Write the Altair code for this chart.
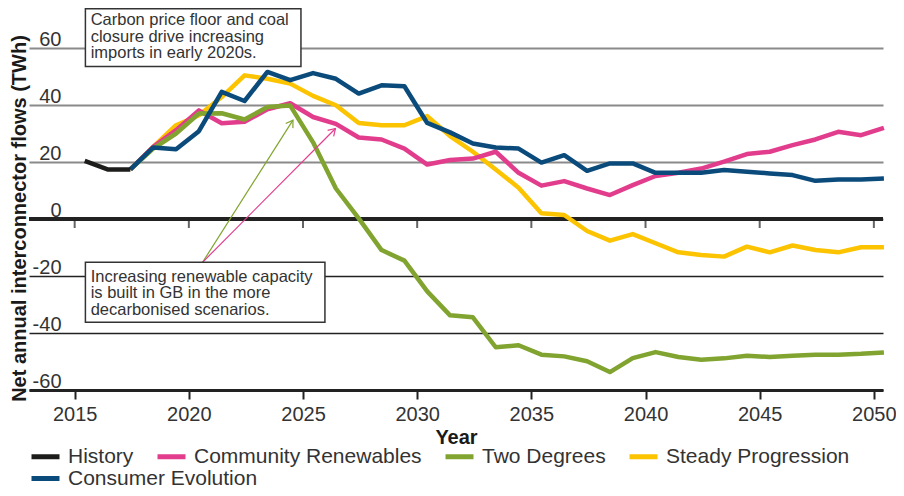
import altair as alt
import pandas as pd

# ---------------- data ----------------
series_names = ["History", "Community Renewables", "Two Degrees",
                "Steady Progression", "Consumer Evolution"]
series_colors = ["#1d1d1b", "#e23d8d", "#80a42f", "#fcc300", "#0b4b7b"]
draw_order = ["Steady Progression", "Community Renewables", "Two Degrees",
              "Consumer Evolution", "History"]

history_years = [2015, 2016, 2017]
history = [20.4, 17.4, 17.4]

scenario_years = list(range(2017, 2051))
community = [17.4, 25.3, 31.2, 38.1, 33.6, 34.1, 38.5, 40.6, 35.8, 33.4, 28.6, 27.9,
             24.7, 19.1, 20.7, 21.2, 23.6, 16.2, 11.7, 13.3, 10.7, 8.4, 11.9, 15.1,
             16.2, 17.7, 20.1, 22.8, 23.6, 25.9, 27.9, 30.6, 29.4, 32.0]
two_degrees = [17.4, 24.7, 30.0, 37.0, 37.1, 34.9, 39.3, 39.8, 26.9, 10.7, 0.2, -10.9,
               -14.6, -25.4, -33.8, -34.5, -45.0, -44.3, -47.6, -48.2, -49.9, -53.7,
               -48.8, -46.7, -48.4, -49.4, -48.9, -48.0, -48.4, -48.0, -47.6, -47.6,
               -47.3, -46.8]
steady = [17.4, 25.3, 32.9, 36.4, 42.8, 50.4, 49.2, 47.5, 43.2, 39.9, 33.7, 32.9,
          32.9, 36.1, 29.1, 23.6, 17.4, 11.0, 2.0, 1.4, -4.2, -7.6, -5.3, -8.5,
          -11.7, -12.6, -13.2, -9.7, -11.7, -9.3, -10.9, -11.7, -9.9, -9.9]
consumer = [17.4, 25.1, 24.5, 30.8, 44.6, 41.4, 51.6, 48.7, 51.2, 49.2, 44.0, 46.9,
            46.6, 33.7, 30.4, 26.5, 25.1, 24.7, 19.8, 22.4, 16.9, 19.5, 19.5, 16.2,
            16.2, 16.2, 17.2, 16.6, 16.0, 15.4, 13.4, 13.9, 13.9, 14.2]

x_ticks = [2015, 2020, 2025, 2030, 2035, 2040, 2045, 2050]
y_ticks = [-60, -40, -20, 0, 20, 40, 60]
year_offset = 0.44  # values are plotted mid-year

# annotations (data coordinates)
note_text = ["Carbon price floor and coal\nclosure drive increasing\nimports in early 2020s.",
             "Increasing renewable capacity\nis built in GB in the more\ndecarbonised scenarios."]
note_x = [2015.7, 2015.7]
note_y = [68.0, -22.0]
box_x = [2015.47, 2015.47]
box_x2 = [2024.91, 2025.96]
box_y = [73.8, -15.2]
box_y2 = [53.5, -36.2]
arrow_x = [2020.6, 2020.6]
arrow_y = [-15.2, -15.2]
arrow_x2 = [2024.56, 2026.42]
arrow_y2 = [34.7, 31.75]
arrow_color = ["#80a42f", "#e23d8d"]
arrow_angle = [32.4, 44.8]

# ---------------- frames ----------------
rows = []
for y, v in zip(history_years, history):
    rows.append({"series": "History", "year": y, "value": v})
for name, vals in [("Community Renewables", community), ("Two Degrees", two_degrees),
                   ("Steady Progression", steady), ("Consumer Evolution", consumer)]:
    for y, v in zip(scenario_years, vals):
        rows.append({"series": name, "year": y, "value": v})
df = pd.DataFrame(rows)
df["xpos"] = df["year"] + year_offset

notes = pd.DataFrame({"text": note_text, "x": note_x, "y": note_y})
boxes = pd.DataFrame({"x": box_x, "x2": box_x2, "y": box_y, "y2": box_y2})
arrows = pd.DataFrame({"x": arrow_x, "y": arrow_y, "x2": arrow_x2, "y2": arrow_y2,
                       "c": arrow_color, "a": arrow_angle})
ticks0 = pd.DataFrame({"t": x_ticks})

FONT = "Liberation Sans"
W, H = 854, 342
x_scale = alt.Scale(domain=[2013, 2050.4], nice=False, zero=False)
y_scale = alt.Scale(domain=[-60, 60], nice=False)

xaxis = alt.Axis(values=x_ticks, format="d", grid=False, domain=True, domainColor="#222",
                 domainWidth=3, ticks=True, tickColor="#222", tickWidth=2, tickSize=9,
                 labelFontSize=20, labelColor="#333", labelFont=FONT,
                 labelBaseline="alphabetic", labelPadding=21,
                 title="Year", titleFont=FONT, titleFontSize=20, titleFontWeight="bold",
                 titleColor="#1a1a1a", titleBaseline="alphabetic", titleY=53)
yaxis = alt.Axis(values=y_ticks, domain=False, ticks=False, tickSize=0, grid=True,
                 gridColor={"condition": {"test": "datum.value < 0", "value": "#222222"},
                            "value": "#8a8a8a"},
                 gridWidth={"condition": {"test": "datum.value < 0", "value": 1.3},
                            "value": 2},
                 labelExpr="datum.value < 0 ? '-' + abs(datum.value) : '' + datum.value",
                 labelAlign="right", labelPadding=-32, labelBaseline="alphabetic",
                 labelOffset=-3, labelFontSize=20, labelColor="#333", labelFont=FONT,
                 title="Net annual interconnector flows (TWh)", titleFont=FONT,
                 titleFontSize=20, titleFontWeight="bold", titleColor="#1a1a1a",
                 titleAngle=-90, titleX=-4, titleY=170, titleAlign="center",
                 titleBaseline="alphabetic")


def make_legend(y):
    return alt.Legend(orient="none", legendX=0, legendY=y, direction="horizontal",
                      symbolType="stroke", symbolSize=784, symbolStrokeWidth=5,
                      labelFontSize=21, labelColor="#333", labelFont=FONT, labelOffset=6,
                      labelLimit=0, columnPadding=13, title=None, padding=0)


# first legend row: four series on the colour scale
color = alt.Color("series:N",
                  scale=alt.Scale(domain=series_names[:4], range=series_colors[:4]),
                  legend=make_legend(392))
# second legend row: the fifth series on its own stroke scale
stroke = alt.Stroke("series:N",
                    scale=alt.Scale(domain=series_names[4:], range=series_colors[4:]),
                    legend=make_legend(414))


def X(field):
    return alt.X(field, scale=x_scale, axis=xaxis)


def Y(field):
    return alt.Y(field, scale=y_scale, axis=yaxis)


layers = []
# zero line
layers.append(alt.Chart(ticks0).mark_rule(color="#222", strokeWidth=3).encode(
    y=alt.YDatum(0, scale=y_scale, axis=yaxis)))
# ticks on zero line
layers.append(alt.Chart(ticks0).mark_tick(orient="vertical", size=9, thickness=2,
                                          color="#222", yOffset=4.5).encode(
    x=X("t:Q"), y=alt.YDatum(0, scale=y_scale, axis=yaxis)))

for s in draw_order:
    enc = {"stroke": stroke} if s in series_names[4:] else {"color": color}
    layers.append(alt.Chart(df).transform_filter(alt.datum.series == s).mark_line(
        strokeWidth=4.5, strokeJoin="round").encode(
        x=X("xpos:Q"), y=Y("value:Q"), **enc))

# annotation arrows
layers.append(alt.Chart(arrows).mark_rule(strokeWidth=1.2).encode(
    x=X("x:Q"), y=Y("y:Q"), x2="x2:Q", y2="y2:Q", color=alt.Color("c:N", scale=None)))
layers.append(alt.Chart(arrows).mark_point(
    shape="M -0.5 0.8 L 0 0 L 0.5 0.8", filled=False, size=289, strokeWidth=1.2,
    opacity=1).encode(
    x=X("x2:Q"), y=Y("y2:Q"),
    angle=alt.Angle("a:Q", scale=None), color=alt.Color("c:N", scale=None)))

# boxes and text
layers.append(alt.Chart(boxes).mark_rect(fill="white", stroke="#333", strokeWidth=1.5).encode(
    x=X("x:Q"), x2="x2:Q", y=Y("y:Q"), y2="y2:Q"))
layers.append(alt.Chart(notes).mark_text(align="left", baseline="alphabetic", lineBreak="\n",
                                         lineHeight=16.5, fontSize=16.5, font=FONT,
                                         color="#333").encode(
    x=X("x:Q"), y=Y("y:Q"), text="text:N"))

chart = alt.layer(*layers).properties(
    width=W, height=H,
    autosize=alt.AutoSizeParams(type="none"),
    padding={"left": 21, "top": 40, "right": 13, "bottom": 98},
    background="white",
).configure_view(stroke=None)

chart.save("out.html", embed_options={"renderer": "svg", "actions": False})
